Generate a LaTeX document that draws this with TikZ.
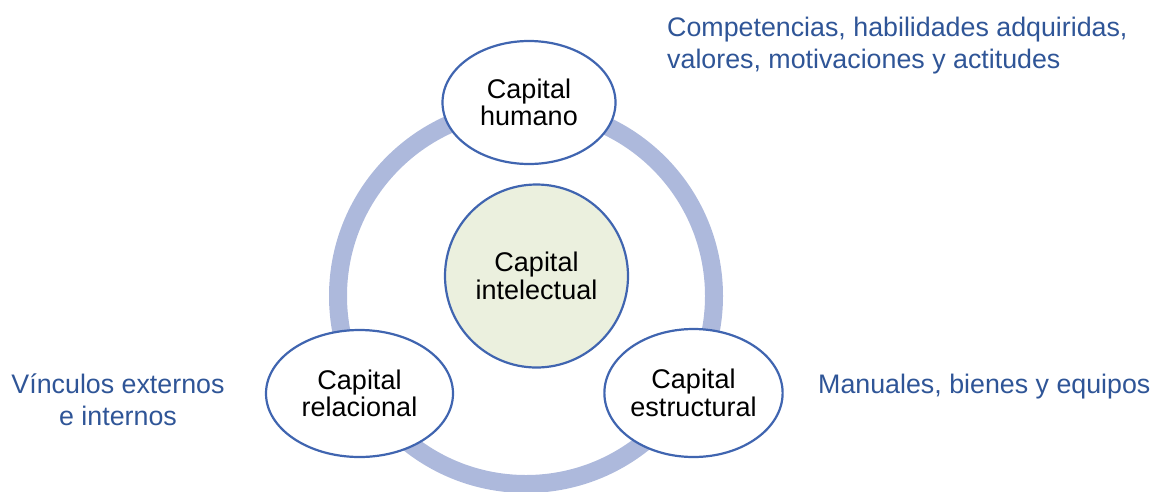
\documentclass[tikz,border=0pt]{standalone}
\usepackage{fontspec}
\setmainfont{Liberation Sans}
\definecolor{ringc}{HTML}{ADB9DC}
\definecolor{edgec}{HTML}{4065B0}
\definecolor{centc}{HTML}{EBF0DE}
\definecolor{descc}{HTML}{2F5597}
\tikzset{
  capnode/.style={ellipse, draw=edgec, line width=2.2pt, fill=white, align=center, inner sep=0pt,
    font=\fontsize{27}{27.5}\selectfont},
  desc/.style={text=descc, inner sep=0pt, font=\fontsize{26.8}{32}\selectfont}
}
\usetikzlibrary{shapes.geometric}
\begin{document}
\begin{tikzpicture}[x=1pt,y=-1pt]
\useasboundingbox (0,0) rectangle (1150,491);
\coordinate (rc) at (526,296);
\draw[ringc, line width=18pt] (rc) circle[radius=188];
\node[draw=edgec, line width=2.2pt, fill=centc, circle, minimum size=183pt, align=center, inner sep=0pt,
  font=\fontsize{27}{27.5}\selectfont] (ci) at (536.5,276) {Capital\\intelectual};
\node[capnode, minimum width=173pt, minimum height=123pt] (ch) at (529,102.5) {Capital\\humano};
\node[capnode, minimum width=187pt, minimum height=127pt] (cr) at (359.5,393.5) {Capital\\relacional};
\node[capnode, minimum width=177pt, minimum height=128pt] (ce) at (693.5,393) {Capital\\estructural};
\node[desc, anchor=west, align=left] (dh) at (667,46) {Competencias, habilidades adquiridas,\\valores, motivaciones y actitudes};
\node[desc, align=center] (dr) at (118,400) {Vínculos externos\\e internos};
\node[desc, anchor=west] (de) at (818,387) {Manuales, bienes y equipos};
\end{tikzpicture}
\end{document}
